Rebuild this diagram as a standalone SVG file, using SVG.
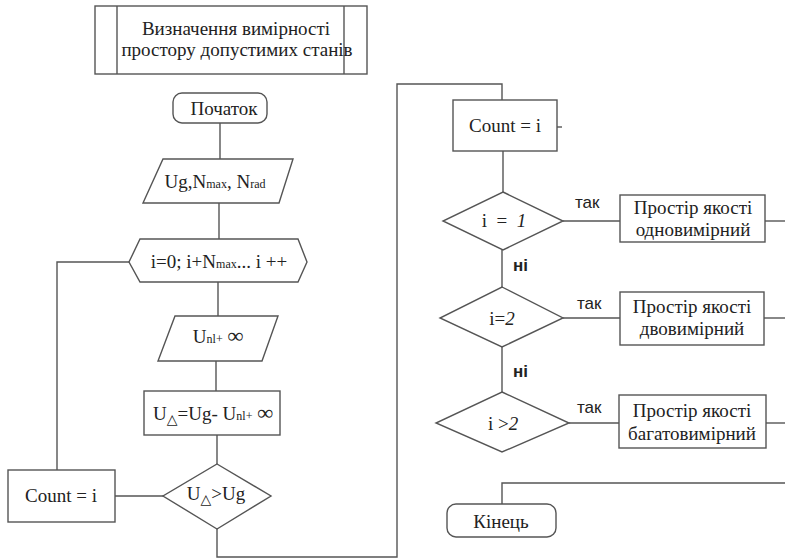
<svg xmlns="http://www.w3.org/2000/svg" width="785" height="559" viewBox="0 0 785 559">
<style>
.s{fill:#fff;stroke:#555;stroke-width:1.4}
.c{fill:none;stroke:#555;stroke-width:1.4}
.t{font-family:"Liberation Serif","Tinos","Times New Roman","DejaVu Serif",serif;font-size:19px;fill:#222;text-anchor:middle}
.l{font-family:"Liberation Sans",Arial,sans-serif;font-size:17px;fill:#222}
.sub{font-size:12px}
</style>
<rect width="785" height="559" fill="#fff"/>
<g id="connectors">
<polyline class="c" points="220,123 220,159"/>
<polyline class="c" points="219,203 219,239"/>
<polyline class="c" points="218,282 218,316"/>
<polyline class="c" points="216,361 216,391"/>
<polyline class="c" points="217,435 217,464"/>
<polyline class="c" points="129,262 57,262 57,470"/>
<polyline class="c" points="115,496 163,496"/>
<polyline class="c" points="217,529 217,557 397,557 397,84 502,84 502,100"/>
<polyline class="c" points="557,127 562,127"/>
<polyline class="c" points="503,151 503,192"/>
<polyline class="c" points="563,221 620,221"/>
<polyline class="c" points="765,221 785,221"/>
<polyline class="c" points="502,250 502,287"/>
<polyline class="c" points="563,318 620,318"/>
<polyline class="c" points="764,318 785,318"/>
<polyline class="c" points="502,347 502,392"/>
<polyline class="c" points="569,423 619,423"/>
<polyline class="c" points="766,423 785,423"/>
<polyline class="c" points="785,483 502,483 502,504"/>
<text class="l" x="575" y="208">так</text>
<text class="l" x="577" y="309">так</text>
<text class="l" x="577" y="413">так</text>
<text class="l" x="513" y="271" font-weight="bold" font-size="16">ні</text>
<text class="l" x="513" y="377" font-weight="bold" font-size="16">ні</text>
</g>
<g id="title">
<rect class="s" x="95" y="6" width="272" height="68"/>
<line class="c" x1="117" y1="6" x2="117" y2="74"/>
<line class="c" x1="344" y1="6" x2="344" y2="74"/>
<text class="t" x="236" y="35" font-size="15.6">Визначення вимірності</text>
<text class="t" x="237" y="56" font-size="15.6">простору допустимих станів</text>
</g>
<g id="start">
<rect class="s" x="173" y="93" width="94" height="30" rx="9"/>
<text class="t" x="224" y="115" font-size="21">Початок</text>
</g>
<g id="input1">
<polygon class="s" points="163,159 293,159 279,203 143,203"/>
<text class="t" x="215" y="188" font-size="17">Ug,N<tspan class="sub">max</tspan>, N<tspan class="sub">rad</tspan></text>
</g>
<g id="loop">
<polygon class="s" points="140,239 298,239 307,262 298,282 140,282 129,262"/>
<text class="t" x="219" y="268" font-size="18">i=0; i+N<tspan class="sub">max</tspan>... i ++</text>
</g>
<g id="input2">
<polygon class="s" points="175,316 278,316 262,361 158,361"/>
<text class="t" x="218" y="343" font-size="18">U<tspan class="sub">nl+</tspan> <tspan font-weight="bold" font-size="22">∞</tspan></text>
</g>
<g id="calc">
<rect class="s" x="144" y="391" width="136" height="44"/>
<text class="t" x="213" y="420" font-size="19">U<tspan font-size="14" dy="4">△</tspan><tspan dy="-4">=Ug- U</tspan><tspan class="sub">nl+</tspan> <tspan font-weight="bold" font-size="22">∞</tspan></text>
</g>
<g id="cond">
<polygon class="s" points="217,464 271,496 217,529 163,496"/>
<text class="t" x="216" y="500" font-size="19">U<tspan font-size="14" dy="4">△</tspan><tspan dy="-4">&gt;Ug</tspan></text>
</g>
<g id="count-left">
<rect class="s" x="8" y="470" width="107" height="52"/>
<text class="t" x="61" y="502">Count = i</text>
</g>
<g id="count-right">
<rect class="s" x="453" y="100" width="104" height="51"/>
<text class="t" x="505" y="132">Count = i</text>
</g>
<g id="d1">
<polygon class="s" points="503,192 563,221 503,250 443,221"/>
<text class="t" x="504" y="227" font-size="20" xml:space="preserve">i  =  <tspan font-style="italic">1</tspan></text>
</g>
<g id="b1">
<rect class="s" x="620" y="195" width="145" height="47"/>
<text class="t" x="693" y="214" font-size="20">Простір якості</text>
<text class="t" x="693" y="236" font-size="20">одновимірний</text>
</g>
<g id="d2">
<polygon class="s" points="502,287 563,318 502,347 440,318"/>
<text class="t" x="502" y="325" font-size="22">i<tspan>=</tspan><tspan font-style="italic">2</tspan></text>
</g>
<g id="b2">
<rect class="s" x="620" y="292" width="144" height="53"/>
<text class="t" x="692" y="313" font-size="20">Простір якості</text>
<text class="t" x="692" y="335" font-size="20">двовимірний</text>
</g>
<g id="d3">
<polygon class="s" points="502,392 569,423 502,452 436,423"/>
<text class="t" x="503" y="430" font-size="22">i &gt;<tspan font-style="italic">2</tspan></text>
</g>
<g id="b3">
<rect class="s" x="619" y="395" width="147" height="53"/>
<text class="t" x="692" y="417" font-size="20">Простір якості</text>
<text class="t" x="692" y="440" font-size="20">багатовимірний</text>
</g>
<g id="end">
<rect class="s" x="447" y="504" width="109" height="33" rx="9"/>
<text class="t" x="501" y="528" font-size="24">Кінець</text>
</g>
</svg>
